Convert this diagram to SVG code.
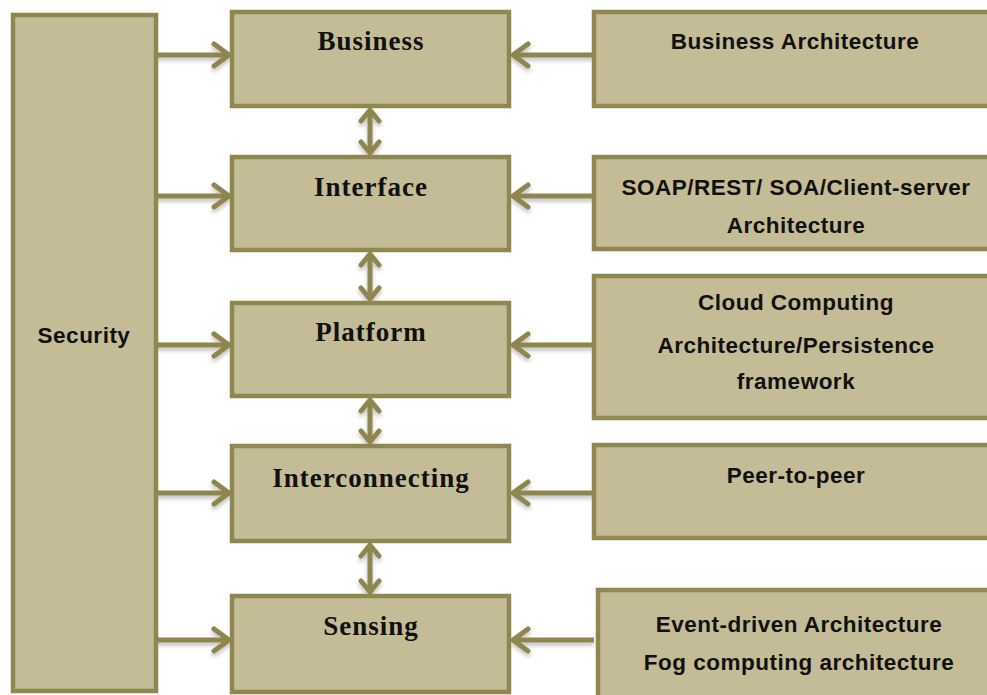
<svg xmlns="http://www.w3.org/2000/svg" width="987" height="695" viewBox="0 0 987 695">
<defs>
<style>
.box{fill:#c4bc96;stroke:#8f8650;stroke-width:4.5}
.c{stroke:#8f8650;stroke-width:5;fill:none}
.h{stroke:#8f8650;stroke-width:5;fill:none;stroke-linecap:round;stroke-linejoin:round}
.m{font-family:"Liberation Serif","Times New Roman",serif;font-weight:bold;font-size:27px;letter-spacing:1px;fill:#111;text-anchor:middle}
.r{font-family:"Liberation Sans",Arial,sans-serif;font-weight:bold;font-size:22.5px;letter-spacing:0.5px;fill:#111;text-anchor:middle}
</style>
<filter id="sh" x="-20%" y="-20%" width="140%" height="160%"><feDropShadow dx="0" dy="3" stdDeviation="2" flood-color="#000" flood-opacity="0.25"/></filter>
</defs>
<g id="connectors" filter="url(#sh)">
<path class="c" d="M156 55H229M156 196H229M156 345H229M156 493H229M156 640H229"/>
<path class="h" d="M214 44L229 55L214 66M214 185L229 196L214 207M214 334L229 345L214 356M214 482L229 493L214 504M214 629L229 640L214 651"/>
<path class="c" d="M594 55H513M594 196H513M594 345H513M594 493H513M594 640H513"/>
<path class="h" d="M528 44L513 55L528 66M528 185L513 196L528 207M528 334L513 345L528 356M528 482L513 493L528 504M528 629L513 640L528 651"/>
<path class="c" d="M370 110V153M370 254V299M370 400V442M370 545V592"/>
<path class="h" d="M361 121L370 110L379 121M361 142L370 153L379 142M361 265L370 254L379 265M361 288L370 299L379 288M361 411L370 400L379 411M361 431L370 442L379 431M361 556L370 545L379 556M361 581L370 592L379 581"/>
</g>
<g id="security"><rect class="box" x="13" y="15" width="143" height="676"/><text class="r" x="84" y="343">Security</text></g>
<g id="business"><rect class="box" x="232" y="12" width="277" height="94"/><text class="m" x="371" y="50">Business</text></g>
<g id="interface"><rect class="box" x="232" y="157" width="277" height="93"/><text class="m" x="371" y="196">Interface</text></g>
<g id="platform"><rect class="box" x="232" y="303" width="277" height="93"/><text class="m" x="371" y="341">Platform</text></g>
<g id="interconnecting"><rect class="box" x="232" y="446" width="277" height="95"/><text class="m" x="371" y="487">Interconnecting</text></g>
<g id="sensing"><rect class="box" x="232" y="596" width="277" height="96"/><text class="m" x="371" y="635">Sensing</text></g>
<g id="business-arch"><rect class="box" x="594" y="12" width="400" height="94"/><text class="r" x="795" y="49">Business Architecture</text></g>
<g id="soap"><rect class="box" x="594" y="157" width="400" height="92"/><text class="r" x="796" y="195">SOAP/REST/ SOA/Client-server</text><text class="r" x="796" y="233">Architecture</text></g>
<g id="cloud"><rect class="box" x="594" y="276" width="400" height="142"/><text class="r" x="796" y="310">Cloud Computing</text><text class="r" x="796" y="353">Architecture/Persistence</text><text class="r" x="796" y="389">framework</text></g>
<g id="p2p"><rect class="box" x="594" y="445" width="400" height="93"/><text class="r" x="796" y="483">Peer-to-peer</text></g>
<g id="event"><rect class="box" x="598" y="590" width="400" height="120"/><text class="r" x="799" y="632">Event-driven Architecture</text><text class="r" x="799" y="670">Fog computing architecture</text></g>
</svg>
